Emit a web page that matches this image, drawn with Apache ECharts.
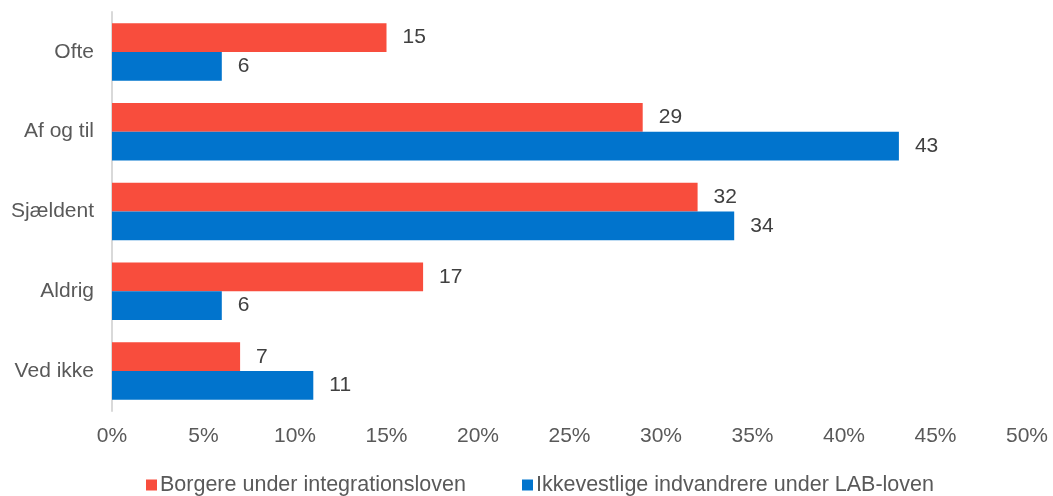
<!DOCTYPE html>
<html><head><meta charset="utf-8">
<script src="https://cdn.jsdelivr.net/npm/echarts@6/dist/echarts.min.js"></script>
<style>html,body{margin:0;padding:0;background:#fff}#c{width:1053px;height:496px}</style>
</head><body><div id="c"></div>
<script>
const categories = ["Ofte", "Af og til", "Sjældent", "Aldrig", "Ved ikke"];
const seriesNames = ["Borgere under integrationsloven", "Ikkevestlige indvandrere under LAB-loven"];
const redValues = [15, 29, 32, 17, 7];
const blueValues = [6, 43, 34, 6, 11];
const colors = ["#F84D3D", "#0174CD"];

const chart = echarts.init(document.getElementById('c'));
const font = "Liberation Sans, Arial, sans-serif";
chart.setOption({
  animation: false,
  textStyle: {fontFamily: font},
  grid: {left: 112, right: 26, top: 12, bottom: 85, containLabel: false},
  legend: {
    bottom: -5, left: 141,
    itemWidth: 11, itemHeight: 11, itemGap: 56,
    icon: 'rect',
    textStyle: {fontSize: 21.5, color: '#595959', fontFamily: font, padding: [0,0,0,-2]},
    data: seriesNames
  },
  xAxis: {
    type: 'value', min: 0, max: 50, interval: 5,
    axisLabel: {formatter: '{value}%', fontSize: 21, color: '#595959', margin: 15, fontFamily: font},
    splitLine: {show: false}, axisLine: {show: false}, axisTick: {show: false}
  },
  yAxis: {
    type: 'category', data: categories, inverse: true,
    axisLine: {show: true, lineStyle: {color: '#d9d9d9', width: 2}},
    axisTick: {show: false},
    axisLabel: {fontSize: 21, color: '#595959', margin: 18, fontFamily: font}
  },
  series: [
    {name: seriesNames[0], type: 'bar', data: redValues, barGap: '0%', barCategoryGap: '28%',
     itemStyle: {color: colors[0]},
     label: {show: true, position: 'right', distance: 16, fontSize: 21, color: '#404040', fontFamily: font}},
    {name: seriesNames[1], type: 'bar', data: blueValues, barGap: '0%', barCategoryGap: '28%',
     itemStyle: {color: colors[1]},
     label: {show: true, position: 'right', distance: 16, fontSize: 21, color: '#404040', fontFamily: font}}
  ]
});
</script></body></html>
